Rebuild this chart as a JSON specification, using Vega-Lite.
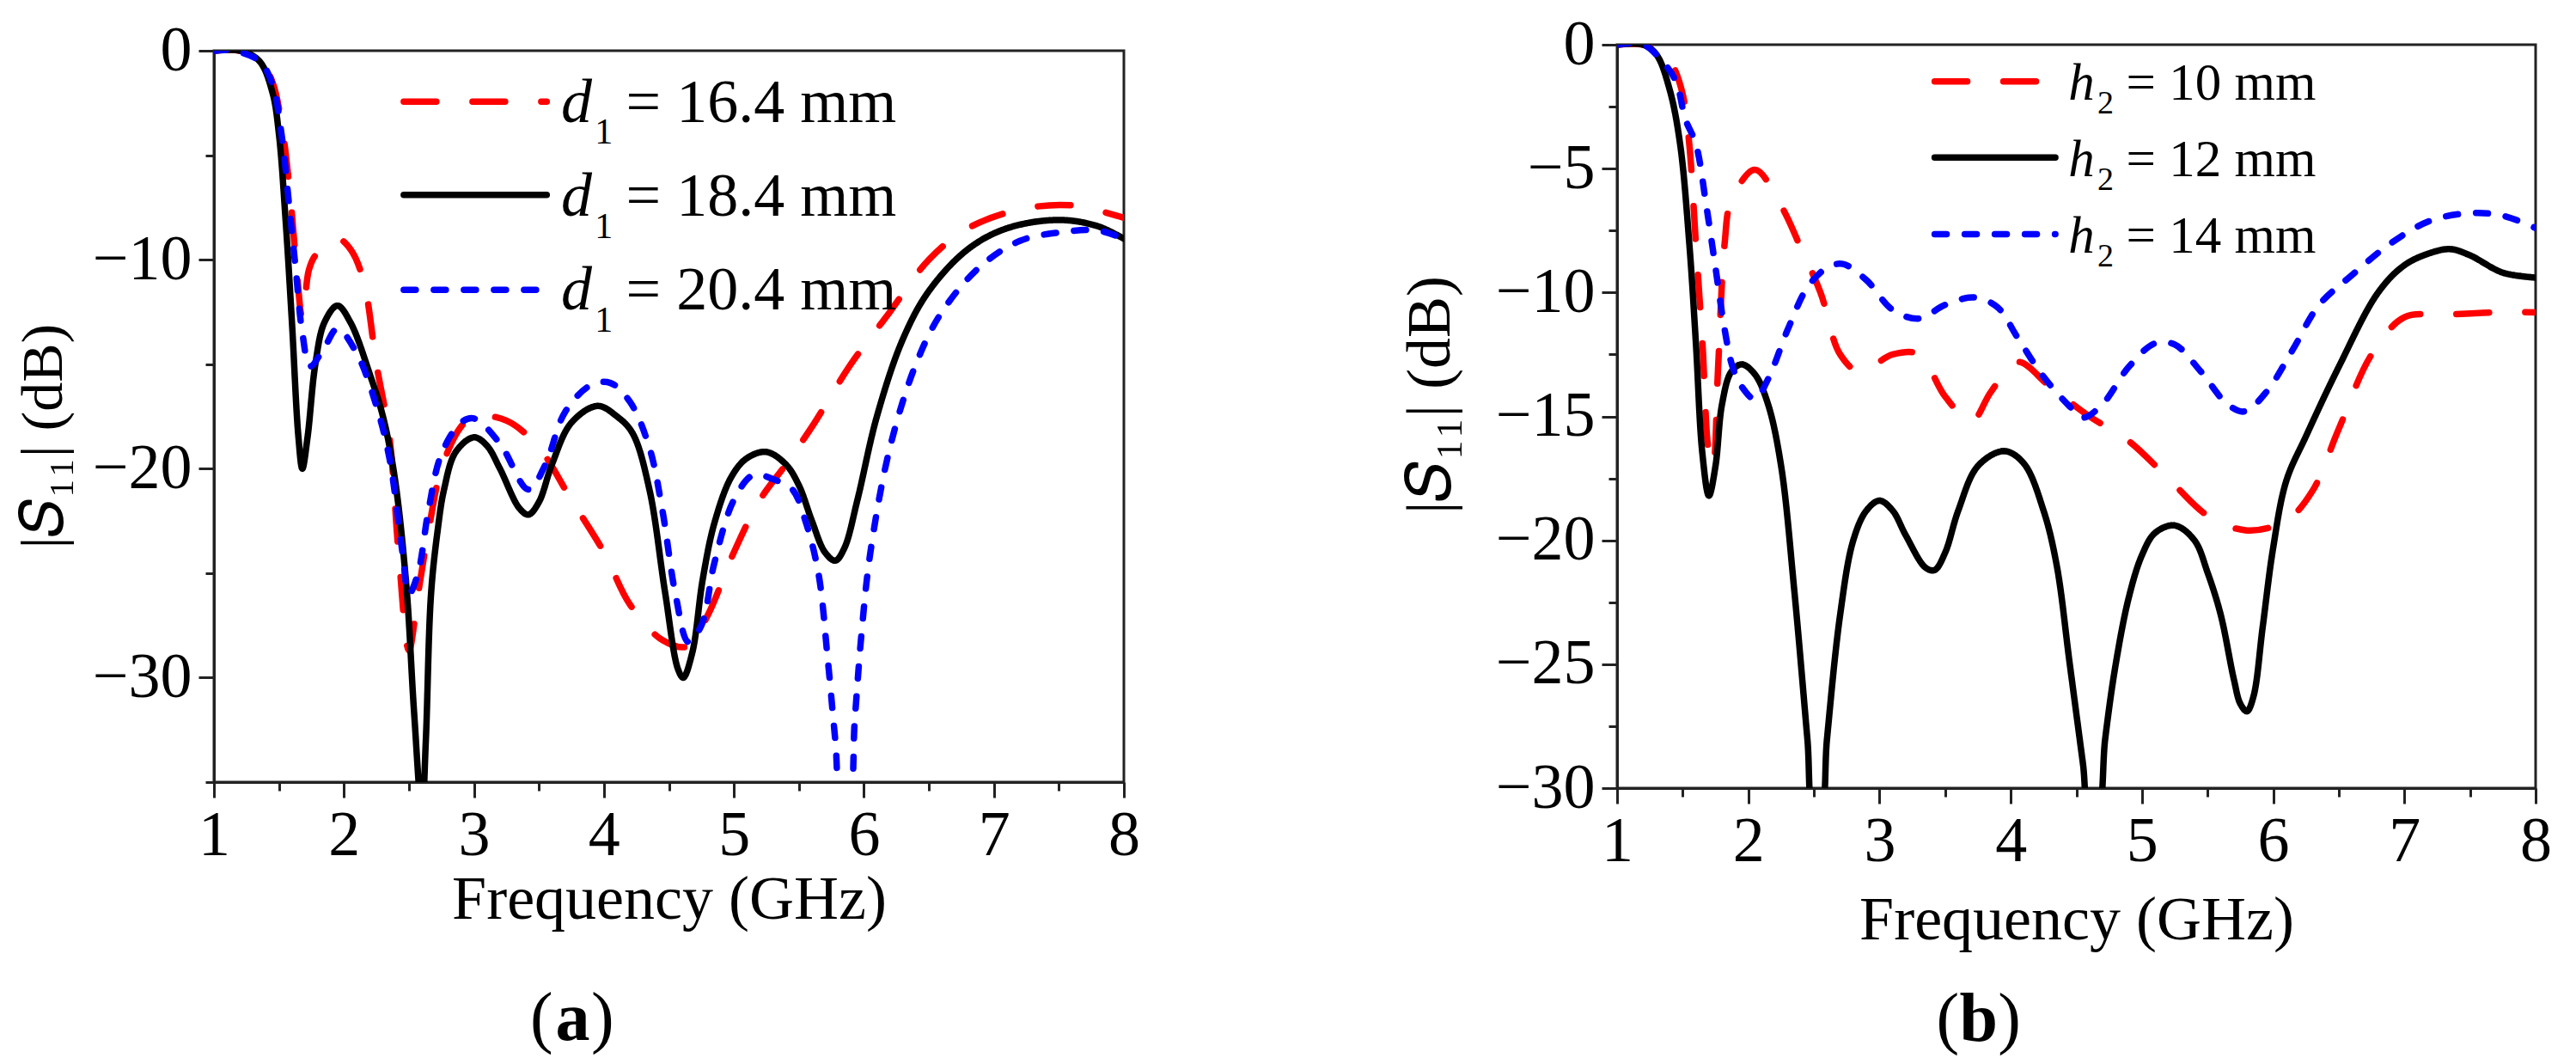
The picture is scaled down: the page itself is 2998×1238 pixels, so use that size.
{
"$schema":"https://vega.github.io/schema/vega-lite/v6.json",
"background":"white",
"padding":{"left":15,"top":13,"right":0,"bottom":0},
"spacing":574,
"center":true,
"bounds":"flush",
"config":{"font":"Liberation Serif","view":{"stroke":"#222","strokeWidth":3},"text":{"font":"Liberation Serif","color":"black"},
"axis":{"grid":false,"domainColor":"#222","domainWidth":3,"tickColor":"#222","tickWidth":3,"labelFont":"Liberation Serif","titleFont":"Liberation Serif","labelColor":"black","titleColor":"black","labelFontSize":74,"titleFontSize":72,"titleFontWeight":"normal","labelOverlap":false,"labelFlush":false,"labelBound":false,"titleBaseline":"alphabetic","format":"d"}},
"datasets":{
"a":[
{"series":"d1 = 16.4 mm","f":1,"s":0},{"series":"d1 = 16.4 mm","f":1.2,"s":0},{"series":"d1 = 16.4 mm","f":1.35,"s":-0.4},{"series":"d1 = 16.4 mm","f":1.45,"s":-1.5},{"series":"d1 = 16.4 mm","f":1.52,"s":-3.5},{"series":"d1 = 16.4 mm","f":1.58,"s":-6.5},{"series":"d1 = 16.4 mm","f":1.63,"s":-10},{"series":"d1 = 16.4 mm","f":1.68,"s":-12.8},{"series":"d1 = 16.4 mm","f":1.73,"s":-10.5},{"series":"d1 = 16.4 mm","f":1.78,"s":-9.8},{"series":"d1 = 16.4 mm","f":1.95,"s":-9},{"series":"d1 = 16.4 mm","f":2.05,"s":-9.5},{"series":"d1 = 16.4 mm","f":2.15,"s":-11},{"series":"d1 = 16.4 mm","f":2.25,"s":-15},{"series":"d1 = 16.4 mm","f":2.35,"s":-18.5},{"series":"d1 = 16.4 mm","f":2.42,"s":-24},{"series":"d1 = 16.4 mm","f":2.5,"s":-28.7},{"series":"d1 = 16.4 mm","f":2.57,"s":-26},{"series":"d1 = 16.4 mm","f":2.65,"s":-23},{"series":"d1 = 16.4 mm","f":2.75,"s":-20},{"series":"d1 = 16.4 mm","f":2.9,"s":-18},{"series":"d1 = 16.4 mm","f":3,"s":-17.5},{"series":"d1 = 16.4 mm","f":3.25,"s":-17.7},{"series":"d1 = 16.4 mm","f":3.5,"s":-19},{"series":"d1 = 16.4 mm","f":3.75,"s":-21.5},{"series":"d1 = 16.4 mm","f":4,"s":-24},{"series":"d1 = 16.4 mm","f":4.2,"s":-26.5},{"series":"d1 = 16.4 mm","f":4.45,"s":-28.2},{"series":"d1 = 16.4 mm","f":4.65,"s":-28.5},{"series":"d1 = 16.4 mm","f":4.8,"s":-27},{"series":"d1 = 16.4 mm","f":5,"s":-24},{"series":"d1 = 16.4 mm","f":5.2,"s":-21.5},{"series":"d1 = 16.4 mm","f":5.4,"s":-19.8},{"series":"d1 = 16.4 mm","f":5.6,"s":-18},{"series":"d1 = 16.4 mm","f":5.9,"s":-15},{"series":"d1 = 16.4 mm","f":6.2,"s":-12.5},{"series":"d1 = 16.4 mm","f":6.5,"s":-10},{"series":"d1 = 16.4 mm","f":6.8,"s":-8.5},{"series":"d1 = 16.4 mm","f":7.2,"s":-7.6},{"series":"d1 = 16.4 mm","f":7.6,"s":-7.4},{"series":"d1 = 16.4 mm","f":8,"s":-8},
{"series":"d1 = 18.4 mm","f":1,"s":0},{"series":"d1 = 18.4 mm","f":1.2,"s":0},{"series":"d1 = 18.4 mm","f":1.35,"s":-0.5},{"series":"d1 = 18.4 mm","f":1.45,"s":-2},{"series":"d1 = 18.4 mm","f":1.5,"s":-4},{"series":"d1 = 18.4 mm","f":1.55,"s":-8},{"series":"d1 = 18.4 mm","f":1.6,"s":-13},{"series":"d1 = 18.4 mm","f":1.65,"s":-18.5},{"series":"d1 = 18.4 mm","f":1.68,"s":-20},{"series":"d1 = 18.4 mm","f":1.72,"s":-18.5},{"series":"d1 = 18.4 mm","f":1.78,"s":-15},{"series":"d1 = 18.4 mm","f":1.85,"s":-13},{"series":"d1 = 18.4 mm","f":1.95,"s":-12.2},{"series":"d1 = 18.4 mm","f":2.05,"s":-13},{"series":"d1 = 18.4 mm","f":2.2,"s":-15.5},{"series":"d1 = 18.4 mm","f":2.3,"s":-17.5},{"series":"d1 = 18.4 mm","f":2.39,"s":-20.4},{"series":"d1 = 18.4 mm","f":2.48,"s":-25.6},{"series":"d1 = 18.4 mm","f":2.54,"s":-31.7},{"series":"d1 = 18.4 mm","f":2.6,"s":-36.5},{"series":"d1 = 18.4 mm","f":2.63,"s":-33},{"series":"d1 = 18.4 mm","f":2.67,"s":-26},{"series":"d1 = 18.4 mm","f":2.72,"s":-23},{"series":"d1 = 18.4 mm","f":2.77,"s":-21},{"series":"d1 = 18.4 mm","f":2.86,"s":-19.2},{"series":"d1 = 18.4 mm","f":3,"s":-18.5},{"series":"d1 = 18.4 mm","f":3.1,"s":-18.9},{"series":"d1 = 18.4 mm","f":3.2,"s":-20},{"series":"d1 = 18.4 mm","f":3.35,"s":-21.9},{"series":"d1 = 18.4 mm","f":3.42,"s":-22.2},{"series":"d1 = 18.4 mm","f":3.5,"s":-21.6},{"series":"d1 = 18.4 mm","f":3.6,"s":-19.8},{"series":"d1 = 18.4 mm","f":3.75,"s":-17.8},{"series":"d1 = 18.4 mm","f":3.95,"s":-17},{"series":"d1 = 18.4 mm","f":4.1,"s":-17.5},{"series":"d1 = 18.4 mm","f":4.22,"s":-18.3},{"series":"d1 = 18.4 mm","f":4.35,"s":-21},{"series":"d1 = 18.4 mm","f":4.47,"s":-25.9},{"series":"d1 = 18.4 mm","f":4.57,"s":-29.6},{"series":"d1 = 18.4 mm","f":4.61,"s":-30},{"series":"d1 = 18.4 mm","f":4.68,"s":-28.8},{"series":"d1 = 18.4 mm","f":4.76,"s":-25.3},{"series":"d1 = 18.4 mm","f":4.85,"s":-22.6},{"series":"d1 = 18.4 mm","f":4.98,"s":-20.4},{"series":"d1 = 18.4 mm","f":5.1,"s":-19.5},{"series":"d1 = 18.4 mm","f":5.25,"s":-19.2},{"series":"d1 = 18.4 mm","f":5.4,"s":-19.8},{"series":"d1 = 18.4 mm","f":5.5,"s":-20.8},{"series":"d1 = 18.4 mm","f":5.6,"s":-22.5},{"series":"d1 = 18.4 mm","f":5.7,"s":-24},{"series":"d1 = 18.4 mm","f":5.78,"s":-24.4},{"series":"d1 = 18.4 mm","f":5.85,"s":-23.8},{"series":"d1 = 18.4 mm","f":5.95,"s":-21.5},{"series":"d1 = 18.4 mm","f":6.1,"s":-17.5},{"series":"d1 = 18.4 mm","f":6.3,"s":-13.8},{"series":"d1 = 18.4 mm","f":6.5,"s":-11.5},{"series":"d1 = 18.4 mm","f":6.8,"s":-9.5},{"series":"d1 = 18.4 mm","f":7.1,"s":-8.5},{"series":"d1 = 18.4 mm","f":7.5,"s":-8.1},{"series":"d1 = 18.4 mm","f":7.8,"s":-8.4},{"series":"d1 = 18.4 mm","f":8,"s":-9},
{"series":"d1 = 20.4 mm","f":1,"s":0},{"series":"d1 = 20.4 mm","f":1.15,"s":0},{"series":"d1 = 20.4 mm","f":1.35,"s":-0.5},{"series":"d1 = 20.4 mm","f":1.45,"s":-1.6},{"series":"d1 = 20.4 mm","f":1.52,"s":-4},{"series":"d1 = 20.4 mm","f":1.58,"s":-7.5},{"series":"d1 = 20.4 mm","f":1.63,"s":-10.5},{"series":"d1 = 20.4 mm","f":1.68,"s":-13.5},{"series":"d1 = 20.4 mm","f":1.74,"s":-15.1},{"series":"d1 = 20.4 mm","f":1.85,"s":-14.2},{"series":"d1 = 20.4 mm","f":1.95,"s":-13.3},{"series":"d1 = 20.4 mm","f":2.1,"s":-14.5},{"series":"d1 = 20.4 mm","f":2.25,"s":-17},{"series":"d1 = 20.4 mm","f":2.35,"s":-19.5},{"series":"d1 = 20.4 mm","f":2.45,"s":-24},{"series":"d1 = 20.4 mm","f":2.5,"s":-26},{"series":"d1 = 20.4 mm","f":2.57,"s":-25},{"series":"d1 = 20.4 mm","f":2.65,"s":-22},{"series":"d1 = 20.4 mm","f":2.75,"s":-19.3},{"series":"d1 = 20.4 mm","f":2.9,"s":-17.8},{"series":"d1 = 20.4 mm","f":3,"s":-17.6},{"series":"d1 = 20.4 mm","f":3.2,"s":-18.8},{"series":"d1 = 20.4 mm","f":3.42,"s":-21},{"series":"d1 = 20.4 mm","f":3.55,"s":-19.8},{"series":"d1 = 20.4 mm","f":3.7,"s":-17.3},{"series":"d1 = 20.4 mm","f":3.9,"s":-16},{"series":"d1 = 20.4 mm","f":4.05,"s":-15.9},{"series":"d1 = 20.4 mm","f":4.2,"s":-16.8},{"series":"d1 = 20.4 mm","f":4.35,"s":-19},{"series":"d1 = 20.4 mm","f":4.45,"s":-22},{"series":"d1 = 20.4 mm","f":4.55,"s":-26},{"series":"d1 = 20.4 mm","f":4.65,"s":-28.3},{"series":"d1 = 20.4 mm","f":4.75,"s":-27.5},{"series":"d1 = 20.4 mm","f":4.85,"s":-24.5},{"series":"d1 = 20.4 mm","f":5,"s":-21.5},{"series":"d1 = 20.4 mm","f":5.15,"s":-20.3},{"series":"d1 = 20.4 mm","f":5.3,"s":-20.5},{"series":"d1 = 20.4 mm","f":5.45,"s":-21},{"series":"d1 = 20.4 mm","f":5.55,"s":-22.5},{"series":"d1 = 20.4 mm","f":5.65,"s":-25},{"series":"d1 = 20.4 mm","f":5.72,"s":-29},{"series":"d1 = 20.4 mm","f":5.78,"s":-33},{"series":"d1 = 20.4 mm","f":5.83,"s":-36},{"series":"d1 = 20.4 mm","f":5.88,"s":-36},{"series":"d1 = 20.4 mm","f":5.93,"s":-32},{"series":"d1 = 20.4 mm","f":5.98,"s":-28},{"series":"d1 = 20.4 mm","f":6.05,"s":-24},{"series":"d1 = 20.4 mm","f":6.2,"s":-19},{"series":"d1 = 20.4 mm","f":6.4,"s":-15},{"series":"d1 = 20.4 mm","f":6.6,"s":-12.5},{"series":"d1 = 20.4 mm","f":6.9,"s":-10.3},{"series":"d1 = 20.4 mm","f":7.2,"s":-9.1},{"series":"d1 = 20.4 mm","f":7.5,"s":-8.7},{"series":"d1 = 20.4 mm","f":7.8,"s":-8.6},{"series":"d1 = 20.4 mm","f":8,"s":-9}
],
"b":[
{"series":"h2 = 10 mm","f":1,"s":0},{"series":"h2 = 10 mm","f":1.2,"s":0},{"series":"h2 = 10 mm","f":1.35,"s":-0.4},{"series":"h2 = 10 mm","f":1.42,"s":-0.8},{"series":"h2 = 10 mm","f":1.5,"s":-2},{"series":"h2 = 10 mm","f":1.55,"s":-4},{"series":"h2 = 10 mm","f":1.6,"s":-8},{"series":"h2 = 10 mm","f":1.65,"s":-12},{"series":"h2 = 10 mm","f":1.7,"s":-16.5},{"series":"h2 = 10 mm","f":1.73,"s":-17},{"series":"h2 = 10 mm","f":1.77,"s":-13},{"series":"h2 = 10 mm","f":1.82,"s":-8},{"series":"h2 = 10 mm","f":1.87,"s":-6.3},{"series":"h2 = 10 mm","f":2.05,"s":-5.05},{"series":"h2 = 10 mm","f":2.25,"s":-6.5},{"series":"h2 = 10 mm","f":2.4,"s":-8.2},{"series":"h2 = 10 mm","f":2.55,"s":-10},{"series":"h2 = 10 mm","f":2.7,"s":-12.5},{"series":"h2 = 10 mm","f":2.85,"s":-13.2},{"series":"h2 = 10 mm","f":3.1,"s":-12.5},{"series":"h2 = 10 mm","f":3.3,"s":-12.5},{"series":"h2 = 10 mm","f":3.5,"s":-14.2},{"series":"h2 = 10 mm","f":3.7,"s":-15.2},{"series":"h2 = 10 mm","f":3.85,"s":-14},{"series":"h2 = 10 mm","f":4.05,"s":-12.8},{"series":"h2 = 10 mm","f":4.3,"s":-13.8},{"series":"h2 = 10 mm","f":4.6,"s":-15},{"series":"h2 = 10 mm","f":4.9,"s":-16},{"series":"h2 = 10 mm","f":5.2,"s":-17.5},{"series":"h2 = 10 mm","f":5.5,"s":-19},{"series":"h2 = 10 mm","f":5.8,"s":-19.6},{"series":"h2 = 10 mm","f":6.1,"s":-19.2},{"series":"h2 = 10 mm","f":6.3,"s":-18},{"series":"h2 = 10 mm","f":6.5,"s":-15.5},{"series":"h2 = 10 mm","f":6.75,"s":-12.5},{"series":"h2 = 10 mm","f":7,"s":-11},{"series":"h2 = 10 mm","f":7.3,"s":-10.9},{"series":"h2 = 10 mm","f":7.7,"s":-10.8},{"series":"h2 = 10 mm","f":8,"s":-10.8},
{"series":"h2 = 12 mm","f":1,"s":0},{"series":"h2 = 12 mm","f":1.2,"s":0},{"series":"h2 = 12 mm","f":1.3,"s":-0.4},{"series":"h2 = 12 mm","f":1.4,"s":-1.8},{"series":"h2 = 12 mm","f":1.48,"s":-4},{"series":"h2 = 12 mm","f":1.55,"s":-8},{"series":"h2 = 12 mm","f":1.6,"s":-12},{"series":"h2 = 12 mm","f":1.65,"s":-16.5},{"series":"h2 = 12 mm","f":1.7,"s":-18.2},{"series":"h2 = 12 mm","f":1.75,"s":-17},{"series":"h2 = 12 mm","f":1.8,"s":-14.5},{"series":"h2 = 12 mm","f":1.87,"s":-13.2},{"series":"h2 = 12 mm","f":1.95,"s":-12.9},{"series":"h2 = 12 mm","f":2.05,"s":-13.3},{"series":"h2 = 12 mm","f":2.15,"s":-14.5},{"series":"h2 = 12 mm","f":2.25,"s":-17},{"series":"h2 = 12 mm","f":2.35,"s":-22},{"series":"h2 = 12 mm","f":2.45,"s":-28},{"series":"h2 = 12 mm","f":2.5,"s":-31},{"series":"h2 = 12 mm","f":2.55,"s":-31},{"series":"h2 = 12 mm","f":2.6,"s":-28},{"series":"h2 = 12 mm","f":2.7,"s":-23},{"series":"h2 = 12 mm","f":2.8,"s":-20},{"series":"h2 = 12 mm","f":2.9,"s":-18.8},{"series":"h2 = 12 mm","f":3,"s":-18.4},{"series":"h2 = 12 mm","f":3.1,"s":-18.8},{"series":"h2 = 12 mm","f":3.2,"s":-19.8},{"series":"h2 = 12 mm","f":3.35,"s":-21.1},{"series":"h2 = 12 mm","f":3.42,"s":-21.2},{"series":"h2 = 12 mm","f":3.5,"s":-20.5},{"series":"h2 = 12 mm","f":3.6,"s":-18.8},{"series":"h2 = 12 mm","f":3.75,"s":-17},{"series":"h2 = 12 mm","f":3.95,"s":-16.4},{"series":"h2 = 12 mm","f":4.1,"s":-16.9},{"series":"h2 = 12 mm","f":4.25,"s":-18.8},{"series":"h2 = 12 mm","f":4.35,"s":-21},{"series":"h2 = 12 mm","f":4.45,"s":-25},{"series":"h2 = 12 mm","f":4.55,"s":-29},{"series":"h2 = 12 mm","f":4.6,"s":-31},{"series":"h2 = 12 mm","f":4.66,"s":-31},{"series":"h2 = 12 mm","f":4.72,"s":-28},{"series":"h2 = 12 mm","f":4.8,"s":-25},{"series":"h2 = 12 mm","f":4.9,"s":-22.3},{"series":"h2 = 12 mm","f":5,"s":-20.6},{"series":"h2 = 12 mm","f":5.1,"s":-19.7},{"series":"h2 = 12 mm","f":5.25,"s":-19.4},{"series":"h2 = 12 mm","f":5.4,"s":-20},{"series":"h2 = 12 mm","f":5.5,"s":-21.3},{"series":"h2 = 12 mm","f":5.6,"s":-23},{"series":"h2 = 12 mm","f":5.7,"s":-25.6},{"series":"h2 = 12 mm","f":5.75,"s":-26.6},{"series":"h2 = 12 mm","f":5.8,"s":-26.9},{"series":"h2 = 12 mm","f":5.85,"s":-26.3},{"series":"h2 = 12 mm","f":5.92,"s":-23.5},{"series":"h2 = 12 mm","f":6,"s":-20.3},{"series":"h2 = 12 mm","f":6.1,"s":-17.6},{"series":"h2 = 12 mm","f":6.25,"s":-15.8},{"series":"h2 = 12 mm","f":6.5,"s":-13},{"series":"h2 = 12 mm","f":6.8,"s":-10},{"series":"h2 = 12 mm","f":7,"s":-8.9},{"series":"h2 = 12 mm","f":7.2,"s":-8.4},{"series":"h2 = 12 mm","f":7.35,"s":-8.25},{"series":"h2 = 12 mm","f":7.5,"s":-8.5},{"series":"h2 = 12 mm","f":7.75,"s":-9.2},{"series":"h2 = 12 mm","f":8,"s":-9.4},
{"series":"h2 = 14 mm","f":1,"s":0},{"series":"h2 = 14 mm","f":1.2,"s":0},{"series":"h2 = 14 mm","f":1.35,"s":-0.7},{"series":"h2 = 14 mm","f":1.45,"s":-1.5},{"series":"h2 = 14 mm","f":1.52,"s":-3},{"series":"h2 = 14 mm","f":1.6,"s":-4},{"series":"h2 = 14 mm","f":1.68,"s":-6.5},{"series":"h2 = 14 mm","f":1.75,"s":-9},{"series":"h2 = 14 mm","f":1.82,"s":-11.5},{"series":"h2 = 14 mm","f":1.88,"s":-13},{"series":"h2 = 14 mm","f":1.95,"s":-13.8},{"series":"h2 = 14 mm","f":2.05,"s":-14.3},{"series":"h2 = 14 mm","f":2.15,"s":-13.5},{"series":"h2 = 14 mm","f":2.3,"s":-11.5},{"series":"h2 = 14 mm","f":2.45,"s":-9.8},{"series":"h2 = 14 mm","f":2.6,"s":-9},{"series":"h2 = 14 mm","f":2.72,"s":-8.85},{"series":"h2 = 14 mm","f":2.9,"s":-9.5},{"series":"h2 = 14 mm","f":3.1,"s":-10.7},{"series":"h2 = 14 mm","f":3.3,"s":-11.05},{"series":"h2 = 14 mm","f":3.5,"s":-10.5},{"series":"h2 = 14 mm","f":3.72,"s":-10.2},{"series":"h2 = 14 mm","f":3.9,"s":-10.6},{"series":"h2 = 14 mm","f":4.05,"s":-11.8},{"series":"h2 = 14 mm","f":4.25,"s":-13.4},{"series":"h2 = 14 mm","f":4.45,"s":-14.6},{"series":"h2 = 14 mm","f":4.55,"s":-15.05},{"series":"h2 = 14 mm","f":4.7,"s":-14.5},{"series":"h2 = 14 mm","f":4.9,"s":-13},{"series":"h2 = 14 mm","f":5.1,"s":-12.05},{"series":"h2 = 14 mm","f":5.25,"s":-12.1},{"series":"h2 = 14 mm","f":5.45,"s":-13.2},{"series":"h2 = 14 mm","f":5.65,"s":-14.5},{"series":"h2 = 14 mm","f":5.78,"s":-14.8},{"series":"h2 = 14 mm","f":5.95,"s":-14},{"series":"h2 = 14 mm","f":6.15,"s":-12.3},{"series":"h2 = 14 mm","f":6.35,"s":-10.5},{"series":"h2 = 14 mm","f":6.6,"s":-9.3},{"series":"h2 = 14 mm","f":6.9,"s":-8},{"series":"h2 = 14 mm","f":7.2,"s":-7.1},{"series":"h2 = 14 mm","f":7.5,"s":-6.8},{"series":"h2 = 14 mm","f":7.75,"s":-6.9},{"series":"h2 = 14 mm","f":8,"s":-7.4}
]},
"hconcat":[
{"width":1059,"height":851,
"layer":[
{"data":{"name":"a"},"mark":{"type":"line","interpolate":"catmull-rom","clip":true,"strokeWidth":7.5,"strokeCap":"round"},
"encoding":{
"x":{"field":"f","type":"quantitative","title":"Frequency (GHz)","scale":{"domain":[1,8],"nice":false},"axis":{"values":[1,1.5,2,2.5,3,3.5,4,4.5,5,5.5,6,6.5,7,7.5,8],"labelExpr":"datum.value % 1 === 0 ? datum.label : ''","tickSize":{"condition":{"test":"datum.value % 1 === 0","value":18},"value":10},"labelPadding":8,"titleY":158}},
"y":{"field":"s","type":"quantitative","title":"|𝑆₁₁| (dB)","scale":{"domain":[-35,0],"nice":false},"axis":{"values":[0,-5,-10,-15,-20,-25,-30,-35],"labelExpr":"datum.value % 10 === 0 ? datum.label : ''","tickSize":{"condition":{"test":"datum.value % 10 === 0","value":18},"value":10},"labelPadding":8,"titleX":-178,"titleY":448,"titleFontSize":68}},
"color":{"field":"series","type":"nominal","scale":{"domain":["d1 = 16.4 mm","d1 = 18.4 mm","d1 = 20.4 mm"],"range":["#ff0000","#000000","#0000ff"]},"legend":null},
"strokeDash":{"field":"series","type":"nominal","scale":{"domain":["d1 = 16.4 mm","d1 = 18.4 mm","d1 = 20.4 mm"],"range":[[38,42],[1,0],[14,21]]},"legend":null}}},
{"data":{"values":[{"series":"d1 = 16.4 mm","x1":2.46,"x2":3.56,"y":-2.44},{"series":"d1 = 18.4 mm","x1":2.46,"x2":3.56,"y":-6.9},{"series":"d1 = 20.4 mm","x1":2.46,"x2":3.56,"y":-11.44}]},
"mark":{"type":"rule","strokeWidth":7.5,"strokeCap":"round"},
"encoding":{"x":{"field":"x1","type":"quantitative"},"x2":{"field":"x2"},"y":{"field":"y","type":"quantitative"},
"color":{"field":"series","type":"nominal","scale":{"domain":["d1 = 16.4 mm","d1 = 18.4 mm","d1 = 20.4 mm"],"range":["#ff0000","#000000","#0000ff"]},"legend":null},
"strokeDash":{"field":"series","type":"nominal","scale":{"domain":["d1 = 16.4 mm","d1 = 18.4 mm","d1 = 20.4 mm"],"range":[[38,42],[1,0],[14,21]]},"legend":null}}},
{"data":{"values":[{"t":"d","x":3.67,"y":-3.4},{"t":"d","x":3.67,"y":-7.9},{"t":"d","x":3.67,"y":-12.4}]},
"mark":{"type":"text","fontSize":72,"fontStyle":"italic","align":"left","baseline":"alphabetic"},
"encoding":{"x":{"field":"x","type":"quantitative"},"y":{"field":"y","type":"quantitative"},"text":{"field":"t"}}},
{"data":{"values":[{"t":"1","x":3.93,"y":-4.45},{"t":"1","x":3.93,"y":-8.95},{"t":"1","x":3.93,"y":-13.45}]},
"mark":{"type":"text","fontSize":42,"align":"left","baseline":"alphabetic"},
"encoding":{"x":{"field":"x","type":"quantitative"},"y":{"field":"y","type":"quantitative"},"text":{"field":"t"}}},
{"data":{"values":[{"t":"= 16.4 mm","x":4.17,"y":-3.4},{"t":"= 18.4 mm","x":4.17,"y":-7.9},{"t":"= 20.4 mm","x":4.17,"y":-12.4}]},
"mark":{"type":"text","fontSize":72,"align":"left","baseline":"alphabetic"},
"encoding":{"x":{"field":"x","type":"quantitative"},"y":{"field":"y","type":"quantitative"},"text":{"field":"t"}}},
{"data":{"values":[{"t":"(","x":3.52,"y":-47.35},{"t":")","x":3.99,"y":-47.35}]},
"mark":{"type":"text","fontSize":80,"align":"center","baseline":"alphabetic"},
"encoding":{"x":{"field":"x","type":"quantitative"},"y":{"field":"y","type":"quantitative"},"text":{"field":"t"}}},
{"data":{"values":[{"t":"a","x":3.76,"y":-47.35}]},
"mark":{"type":"text","fontSize":80,"fontWeight":"bold","align":"center","baseline":"alphabetic"},
"encoding":{"x":{"field":"x","type":"quantitative"},"y":{"field":"y","type":"quantitative"},"text":{"field":"t"}}}
]},
{"width":1069,"height":865,
"layer":[
{"data":{"name":"b"},"mark":{"type":"line","interpolate":"catmull-rom","clip":true,"strokeWidth":7.5,"strokeCap":"round"},
"encoding":{
"x":{"field":"f","type":"quantitative","title":"Frequency (GHz)","scale":{"domain":[1,8],"nice":false},"axis":{"values":[1,1.5,2,2.5,3,3.5,4,4.5,5,5.5,6,6.5,7,7.5,8],"labelExpr":"datum.value % 1 === 0 ? datum.label : ''","tickSize":{"condition":{"test":"datum.value % 1 === 0","value":18},"value":10},"labelPadding":8,"titleY":175}},
"y":{"field":"s","type":"quantitative","title":"|𝑆₁₁| (dB)","scale":{"domain":[-30,0],"nice":false},"axis":{"values":[0,-2.5,-5,-7.5,-10,-12.5,-15,-17.5,-20,-22.5,-25,-27.5,-30],"labelExpr":"datum.value % 5 === 0 ? datum.label : ''","tickSize":{"condition":{"test":"datum.value % 5 === 0","value":18},"value":10},"labelPadding":8,"titleX":-196,"titleY":407}},
"color":{"field":"series","type":"nominal","scale":{"domain":["h2 = 10 mm","h2 = 12 mm","h2 = 14 mm"],"range":["#ff0000","#000000","#0000ff"]},"legend":null},
"strokeDash":{"field":"series","type":"nominal","scale":{"domain":["h2 = 10 mm","h2 = 12 mm","h2 = 14 mm"],"range":[[40,40],[1,0],[14,21]]},"legend":null}}},
{"data":{"values":[{"series":"h2 = 10 mm","x1":3.42,"x2":4.34,"y":-1.48},{"series":"h2 = 12 mm","x1":3.42,"x2":4.34,"y":-4.55},{"series":"h2 = 14 mm","x1":3.42,"x2":4.34,"y":-7.65}]},
"mark":{"type":"rule","strokeWidth":7.5,"strokeCap":"round"},
"encoding":{"x":{"field":"x1","type":"quantitative"},"x2":{"field":"x2"},"y":{"field":"y","type":"quantitative"},
"color":{"field":"series","type":"nominal","scale":{"domain":["h2 = 10 mm","h2 = 12 mm","h2 = 14 mm"],"range":["#ff0000","#000000","#0000ff"]},"legend":null},
"strokeDash":{"field":"series","type":"nominal","scale":{"domain":["h2 = 10 mm","h2 = 12 mm","h2 = 14 mm"],"range":[[40,40],[1,0],[14,21]]},"legend":null}}},
{"data":{"values":[{"t":"h","x":4.44,"y":-2.22},{"t":"h","x":4.44,"y":-5.32},{"t":"h","x":4.44,"y":-8.39}]},
"mark":{"type":"text","fontSize":61,"fontStyle":"italic","align":"left","baseline":"alphabetic"},
"encoding":{"x":{"field":"x","type":"quantitative"},"y":{"field":"y","type":"quantitative"},"text":{"field":"t"}}},
{"data":{"values":[{"t":"2","x":4.66,"y":-2.77},{"t":"2","x":4.66,"y":-5.87},{"t":"2","x":4.66,"y":-8.94}]},
"mark":{"type":"text","fontSize":38,"align":"left","baseline":"alphabetic"},
"encoding":{"x":{"field":"x","type":"quantitative"},"y":{"field":"y","type":"quantitative"},"text":{"field":"t"}}},
{"data":{"values":[{"t":"= 10 mm","x":4.88,"y":-2.22},{"t":"= 12 mm","x":4.88,"y":-5.32},{"t":"= 14 mm","x":4.88,"y":-8.39}]},
"mark":{"type":"text","fontSize":61,"align":"left","baseline":"alphabetic"},
"encoding":{"x":{"field":"x","type":"quantitative"},"y":{"field":"y","type":"quantitative"},"text":{"field":"t"}}},
{"data":{"values":[{"t":"(","x":3.52,"y":-40.2},{"t":")","x":3.99,"y":-40.2}]},
"mark":{"type":"text","fontSize":80,"align":"center","baseline":"alphabetic"},
"encoding":{"x":{"field":"x","type":"quantitative"},"y":{"field":"y","type":"quantitative"},"text":{"field":"t"}}},
{"data":{"values":[{"t":"b","x":3.755,"y":-40.2}]},
"mark":{"type":"text","fontSize":80,"fontWeight":"bold","align":"center","baseline":"alphabetic"},
"encoding":{"x":{"field":"x","type":"quantitative"},"y":{"field":"y","type":"quantitative"},"text":{"field":"t"}}}
]}
]
}
